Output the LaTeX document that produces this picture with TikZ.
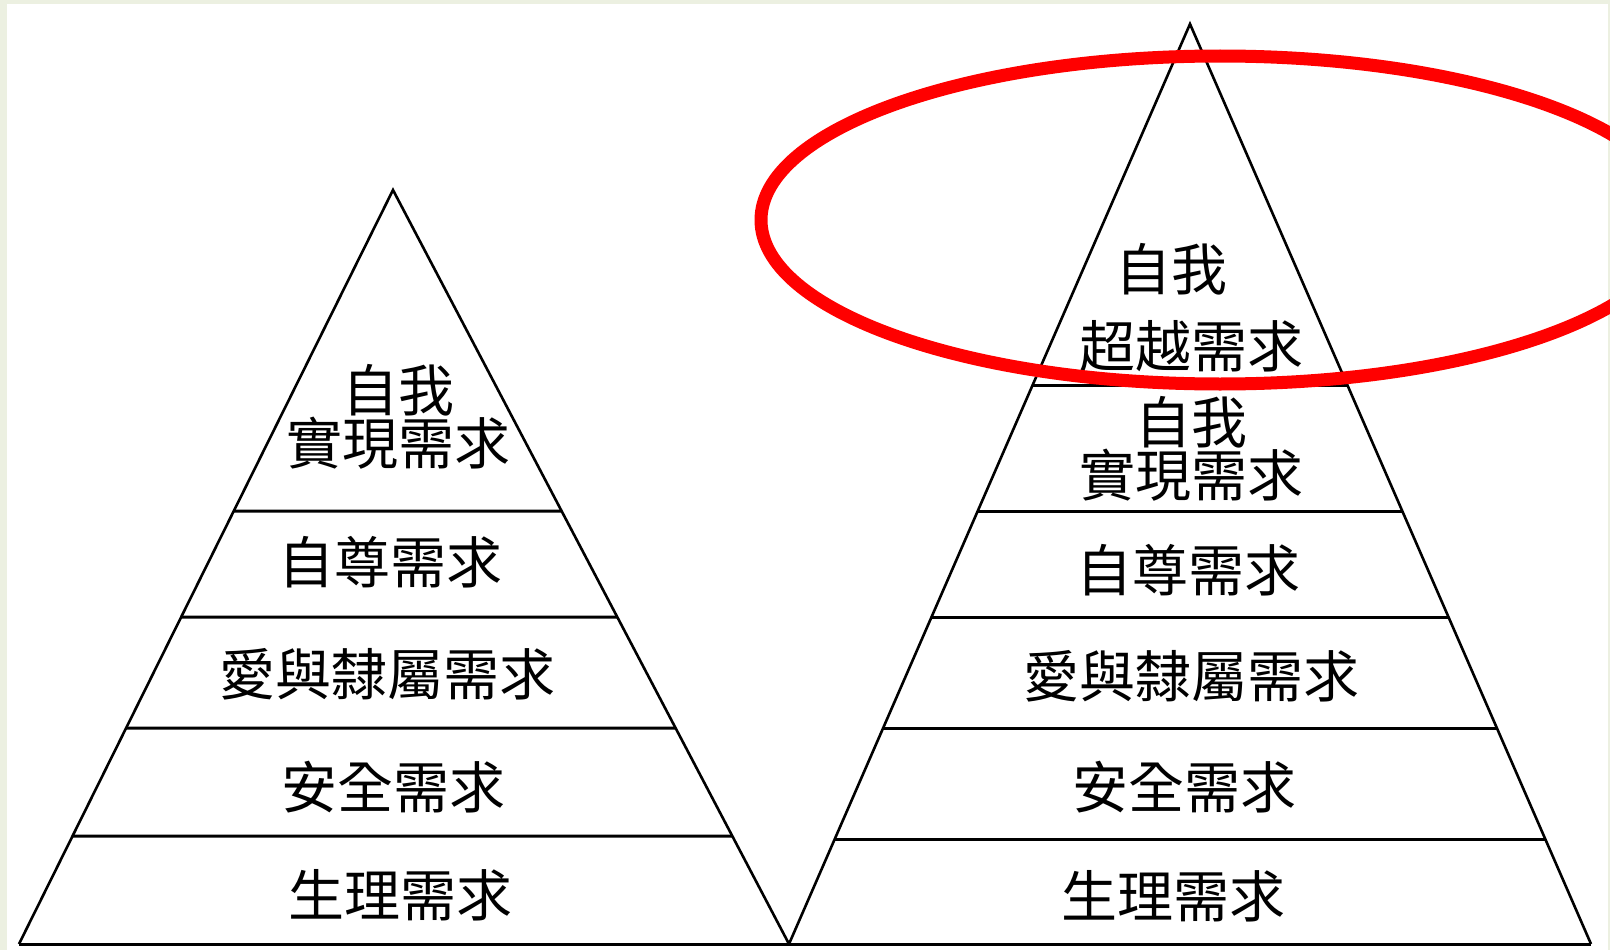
\documentclass[tikz,border=0pt]{standalone}
\usepackage{fontspec}
\newfontfamily\cjk{Noto Sans CJK TC}
\definecolor{framecol}{RGB}{236,240,225}
\begin{document}
\begin{tikzpicture}[x=1pt,y=-1pt,
  edge/.style={black,line width=2.6pt},
  tier/.style={black,line width=3pt},
  lbl/.style={inner sep=0pt,text height=44pt,text depth=2pt,font=\cjk\fontsize{56}{60}\selectfont},
  halo/.style={red,line width=13pt}]
\useasboundingbox (0,0) rectangle (1610,950);
\clip (0,0) rectangle (1610,950);
\fill[framecol] (0,0) rectangle (1610,950);
\fill[white] (7,4) rectangle (1608,950);
% pyramids
\coordinate (LA) at (393,190);
\coordinate (LL) at (19,944);
\coordinate (LR) at (789,944);
\coordinate (RA) at (1190,24);
\coordinate (RL) at (789,944);
\coordinate (RR) at (1591,944);
\draw[edge] (LL) -- (LA) -- (LR);
\draw[edge] (RL) -- (RA) -- (RR);
\draw[tier] (LL) -- (RR);
\foreach \yy in {511,617,728,836}
  \draw[tier] (intersection of LL--LA and 0,\yy--1,\yy) -- (intersection of LR--LA and 0,\yy--1,\yy);
\foreach \yy in {385,511,617,728,839}
  \draw[tier] (intersection of RL--RA and 0,\yy--1,\yy) -- (intersection of RR--RA and 0,\yy--1,\yy);
% left labels
\node[lbl] (l1a) at (398,390) {自我};
\node[lbl] (l1b) at (398,443) {實現需求};
\node[lbl] (l2) at (390,562) {自尊需求};
\node[lbl] (l3) at (387,674) {愛與隸屬需求};
\node[lbl] (l4) at (393,787) {安全需求};
\node[lbl] (l5) at (400,895) {生理需求};
% right labels
\node[lbl] (r0a) at (1171,269) {自我};
\node[lbl] (r0b) at (1191,346) {超越需求};
\node[lbl] (r1a) at (1191,422) {自我};
\node[lbl] (r1b) at (1191,475) {實現需求};
\node[lbl] (r2) at (1188,570) {自尊需求};
\node[lbl] (r3) at (1191,676) {愛與隸屬需求};
\node[lbl] (r4) at (1184,787) {安全需求};
\node[lbl] (r5) at (1173,896) {生理需求};
% highlight
\draw[halo] (1220,220) ellipse [x radius=459pt, y radius=164pt];
\end{tikzpicture}
\end{document}
